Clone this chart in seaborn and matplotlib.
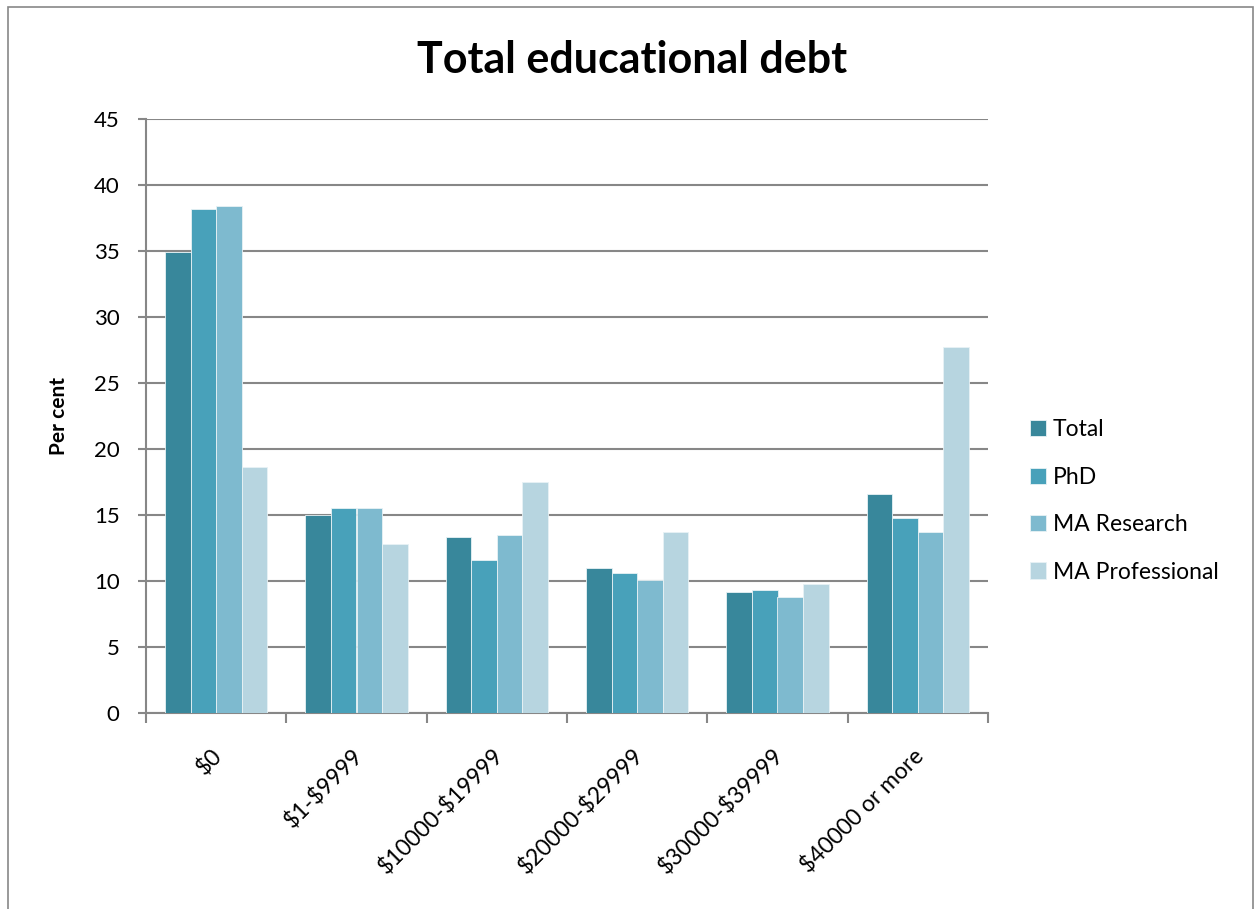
import matplotlib
matplotlib.use("Agg")
import matplotlib.pyplot as plt
import seaborn as sns
import pandas as pd
from matplotlib.patches import Rectangle
from matplotlib.transforms import ScaledTranslation

categories = ["$0", "$1-$9999", "$10000-$19999", "$20000-$29999", "$30000-$39999", "$40000 or more"]
series_names = ["Total", "PhD", "MA Research", "MA Professional"]
total = [34.9, 15.0, 13.3, 11.0, 9.2, 16.6]
phd = [38.2, 15.5, 11.6, 10.6, 9.3, 14.8]
ma_research = [38.4, 15.5, 13.5, 10.1, 8.8, 13.7]
ma_professional = [18.6, 12.8, 17.5, 13.7, 9.8, 27.7]
colors = ["#38879B", "#48A1BA", "#7EBACF", "#B7D5E0"]
yticks = [0, 5, 10, 15, 20, 25, 30, 35, 40, 45]

rows = []
for name, vals in zip(series_names, [total, phd, ma_research, ma_professional]):
    for c, v in zip(categories, vals):
        rows.append({"category": c, "series": name, "value": v})
df = pd.DataFrame(rows)

sns.set_theme(style="white")
plt.rcParams['font.family'] = ['Lato', 'DejaVu Sans']
plt.rcParams['text.parse_math'] = False
plt.rcParams['text.color'] = 'black'
plt.rcParams['axes.labelcolor'] = 'black'

fig = plt.figure(figsize=(12.55, 9.09), dpi=100)
ax = fig.add_axes([146/1255, 1-713/909, (988-146)/1255, (713-119)/909])

sns.barplot(data=df, x="category", y="value", hue="series", order=categories,
            hue_order=series_names, palette=colors, width=0.73, ax=ax,
            edgecolor="#E8F2F5", linewidth=0.6, saturation=1, errorbar=None, zorder=3)

ax.set_ylim(0, 45)
ax.set_xlim(-0.5, len(categories) - 0.5)
ax.set_yticks(yticks)
ax.set_yticklabels([str(t) for t in yticks], fontsize=16)
ax.yaxis.grid(True, color="#878787", linewidth=1.5, zorder=0)
ax.set_axisbelow(True)
for s in ["top", "right"]:
    ax.spines[s].set_visible(False)
for s in ["left", "bottom"]:
    ax.spines[s].set_color("#878787")
    ax.spines[s].set_linewidth(1.5)
ax.tick_params(axis="y", which="both", left=True, length=6, width=1.5,
               color="#878787", pad=13, labelcolor="black")

# x ticks at category boundaries
ax.set_xticks([i - 0.5 for i in range(len(categories) + 1)], minor=False)
ax.set_xticklabels([])
ax.tick_params(axis="x", which="major", bottom=True, length=7, width=1.5, color="#878787")
ax.set_xticks(range(len(categories)), minor=True)
ax.set_xticklabels(categories, minor=True, rotation=45, ha="right", va="top",
                   rotation_mode="anchor", fontsize=16.5, color="black")
ax.tick_params(axis="x", which="minor", bottom=False, pad=19)
off = ScaledTranslation(-5/100, 0, fig.dpi_scale_trans)
for lbl in ax.get_xticklabels(minor=True):
    lbl.set_transform(lbl.get_transform() + off)

ax.set_xlabel("")
ax.set_ylabel("Per cent", fontsize=15, fontweight="bold", labelpad=18)

handles, labels = ax.get_legend_handles_labels()
if ax.legend_:
    ax.legend_.remove()
fig.legend(handles, labels, loc="center left", bbox_to_anchor=(1030/1255, 1-501/909),
           frameon=False, fontsize=16.5, handlelength=0.7, handleheight=0.7,
           labelspacing=1.15, handletextpad=0.3, borderpad=0, borderaxespad=0)

fig.text(632/1255, 1-60/909, "Total educational debt", ha="center", va="center",
         fontsize=31, fontweight="bold")

fig.patches.append(Rectangle((8/1255, -0.1), (1253-8)/1255, 1.1 - 7/909, transform=fig.transFigure,
                             fill=False, edgecolor="#878787", linewidth=1.2))

fig.savefig("out.png", dpi=100)
